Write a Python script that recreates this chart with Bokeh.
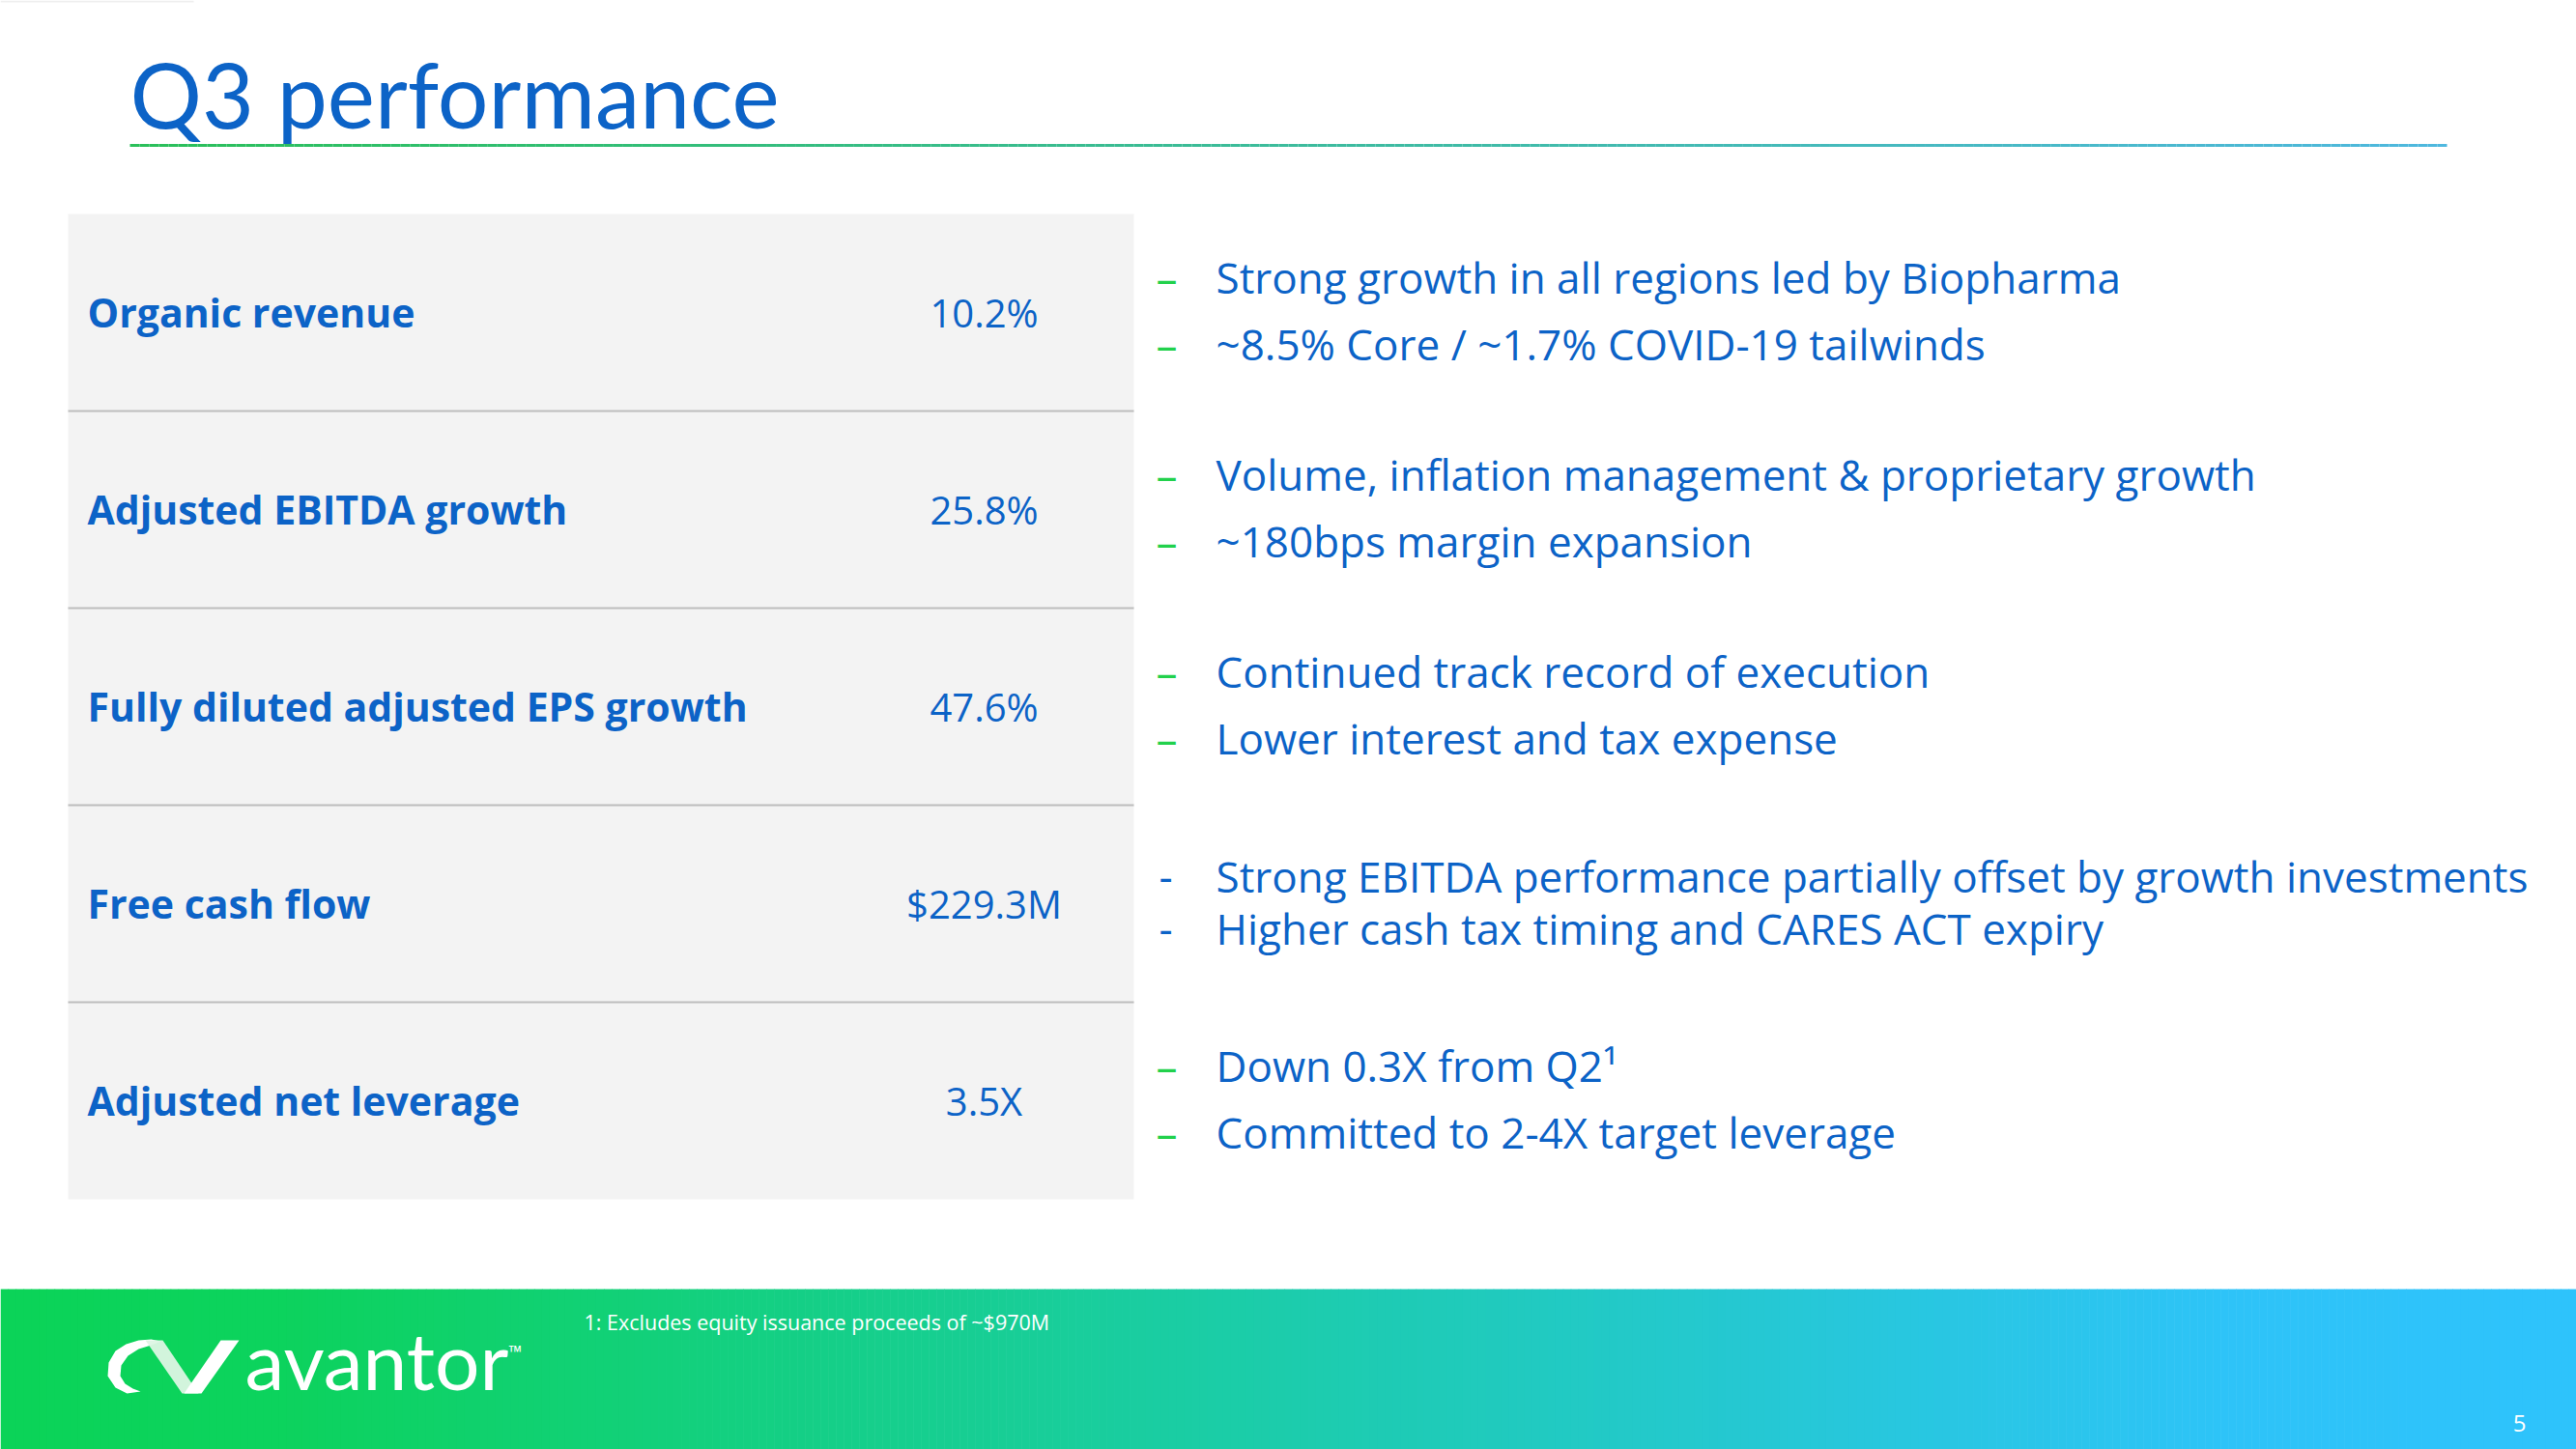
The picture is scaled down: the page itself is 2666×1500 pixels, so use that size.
import numpy as np
from bokeh.plotting import figure
from bokeh.models import Range1d
from bokeh.core.properties import value
from bokeh.embed import file_html
from bokeh.resources import INLINE

# ---------------- data ----------------
title = "Q3 performance"
metrics = ["Organic revenue", "Adjusted EBITDA growth", "Fully diluted adjusted EPS growth",
           "Free cash flow", "Adjusted net leverage"]
metric_values = ["10.2%", "25.8%", "47.6%", "$229.3M", "3.5X"]
notes_organic = ["Strong growth in all regions led by Biopharma", "~8.5% Core / ~1.7% COVID-19 tailwinds"]
notes_ebitda = ["Volume, inflation management & proprietary growth", "~180bps margin expansion"]
notes_eps = ["Continued track record of execution", "Lower interest and tax expense"]
notes_fcf = ["Strong EBITDA performance partially offset by growth investments",
             "Higher cash tax timing and CARES ACT expiry"]
notes_leverage = ["Down 0.3X from Q2\u00b9", "Committed to 2-4X target leverage"]
footnote = "1: Excludes equity issuance proceeds of ~$970M"
brand = "avantor"
page_number = "5"

notes = [notes_organic, notes_ebitda, notes_eps, notes_fcf, notes_leverage]

# ---------------- style / layout ----------------
TITLE_FONT = value("Lato")
FONT = value("Open Sans")
BLUE = "#0C63C7"
GREEN_DASH = "#22D14C"
SHIFT = 0.37  # correction so that given y is the alphabetic baseline


def base(y, size):
    return np.asarray(y, dtype=float) - SHIFT * size


W, H = 2666, 1500
p = figure(width=W, height=H, output_backend="svg", toolbar_location=None,
           x_range=Range1d(0, W), y_range=Range1d(H, 0),
           min_border=0, outline_line_color=None, background_fill_color="white",
           border_fill_color="white")
p.axis.visible = False
p.grid.visible = False

# faint line top-left
p.quad(left=[0], right=[200], top=[0], bottom=[2], fill_color="#EFEFEF", line_color=None)

# title
p.text(x=[134], y=base([131], 93), text=[title], text_font=TITLE_FONT, text_font_size="93px",
       text_color=BLUE, text_baseline="alphabetic", text_align="left")

# title underline with gradient
n = 240
xs = np.linspace(134, 2532, n + 1)
c0 = np.array([0x2B, 0xC0, 0x5A]); c1 = np.array([0x4F, 0xB8, 0xDF])
cols = ["#%02x%02x%02x" % tuple((c0 + (c1 - c0) * t).astype(int)) for t in np.linspace(0, 1, n)]
p.segment(x0=xs[:-1], y0=[150] * n, x1=xs[1:], y1=[150] * n, line_color=cols, line_width=3)

# table
top, row_h, left, right = 221, 204, 70, 1173
nrows = len(metrics)
idx = np.arange(nrows)
p.quad(left=[left], right=[right], top=[top], bottom=[top + row_h * nrows],
       fill_color="#F3F3F3", line_color=None)
div_y = top + row_h * idx[1:]
p.segment(x0=[left] * (nrows - 1), x1=[right] * (nrows - 1), y0=div_y, y1=div_y,
          line_color="#BDBDBD", line_width=2)
centers = top + row_h * idx + row_h / 2
p.text(x=[90] * nrows, y=base(centers + 15, 41), text=metrics, text_font=FONT, text_font_size="41px",
       text_font_style="bold", text_color=BLUE, text_baseline="alphabetic")
p.text(x=[1018] * nrows, y=base(centers + 15, 40), text=metric_values, text_font=FONT,
       text_font_size="40px", text_color=BLUE, text_baseline="alphabetic", text_align="center")

# commentary bullets
offsets = {3: (-12, 42)}
for i, lines in enumerate(notes):
    o = offsets.get(i, (-20, 49))
    ys = base([centers[i] + o[0], centers[i] + o[1]], 44)
    p.text(x=[1258] * 2, y=ys, text=lines, text_font=FONT, text_font_size="44px",
           text_color=BLUE, text_baseline="alphabetic")
    if i == 3:
        p.text(x=[1206] * 2, y=ys, text=["-", "-"], text_font=FONT, text_font_size="44px",
               text_color=BLUE, text_baseline="alphabetic", text_align="center")
    else:
        p.text(x=[1207] * 2, y=ys, text=["\u2013", "\u2013"], text_font=FONT, text_font_size="44px",
               text_color=GREEN_DASH, text_baseline="alphabetic", text_align="center")

# footer gradient band
stops_x = [0, 300, 1300, 2000, 2300, 2666]
stops_c = np.array([[0x0B, 0xD3, 0x58], [0x0D, 0xD3, 0x5E], [0x1C, 0xCD, 0xAA],
                    [0x29, 0xC7, 0xE2], [0x2E, 0xC4, 0xF8], [0x2F, 0xC3, 0xFC]])
m = 333
bx = np.linspace(0, 2666, m + 1)
mid = (bx[:-1] + bx[1:]) / 2
rgb = np.stack([np.interp(mid, stops_x, stops_c[:, k]) for k in range(3)], axis=1).astype(int)
bcols = ["#%02x%02x%02x" % tuple(c) for c in rgb]
p.quad(left=bx[:-1], right=bx[1:] + 0.6, top=[1334] * m, bottom=[1500] * m,
       fill_color=bcols, line_color=None)

# logo mark
p.patch(x=[145, 131, 119, 111, 112, 119, 130, 143, 156, 166, 156, 143, 132, 125, 124, 129, 137],
        y=[1440, 1442, 1436, 1424, 1410, 1398, 1391, 1387, 1386, 1388, 1392, 1396, 1403, 1413, 1424, 1432, 1437],
        fill_color="white", line_color=None)
p.patch(x=[150, 168, 205, 188], y=[1387, 1387, 1442, 1442], fill_color="#DDF6E4", line_color=None,
        fill_alpha=0.95)
p.patch(x=[190, 208, 247, 228], y=[1442, 1442, 1387, 1387], fill_color="white", line_color=None)

p.text(x=[253], y=base([1437], 82), text=[brand], text_font=TITLE_FONT, text_font_size="82px",
       text_color="white", text_baseline="alphabetic")
p.text(x=[526], y=base([1405], 18), text=["\u2122"], text_font=FONT, text_font_size="18px",
       text_color="white", text_baseline="alphabetic")

p.text(x=[604], y=base([1376], 21.5), text=[footnote], text_font=FONT, text_font_size="21.5px",
       text_color="white", text_baseline="alphabetic")
p.text(x=[2607], y=base([1482], 24), text=[page_number], text_font=FONT, text_font_size="24px",
       text_color="white", text_baseline="alphabetic", text_align="center")

open("out.html", "w").write(file_html(p, INLINE))
